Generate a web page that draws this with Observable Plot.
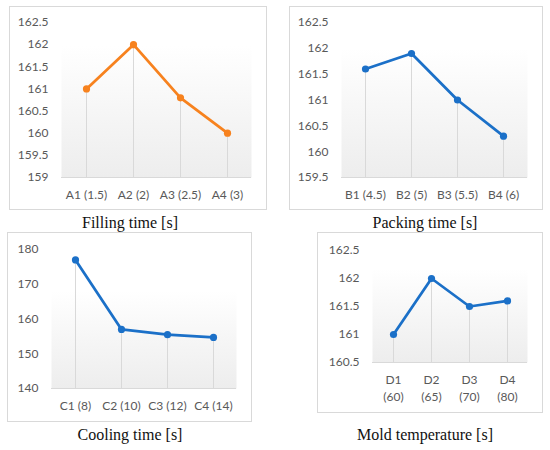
<!DOCTYPE html>
<html>
<head>
<meta charset="utf-8">
<script src="https://cdn.jsdelivr.net/npm/d3@7"></script>
<script src="https://cdn.jsdelivr.net/npm/@observablehq/plot@0.6"></script>
<style>
  html, body { margin: 0; padding: 0; background: #fff; }
  #root { position: relative; width: 550px; height: 450px; overflow: hidden; background: #fff; }
  .box { position: absolute; box-sizing: border-box; border: 1px solid #d9d9d9; pointer-events: none; }
  .chart { position: absolute; }
  .cap { position: absolute; width: 220px; text-align: center; font-family: "Liberation Serif", serif; font-size: 16px; line-height: 16px; color: #111; white-space: nowrap; }
</style>
</head>
<body>
<div id="root"></div>
<script>
// ---- data ----
const catsA = ["A1 (1.5)", "A2 (2)", "A3 (2.5)", "A4 (3)"];
const valsA = [161.0, 162.0, 160.8, 160.0];
const ticksA = [159, 159.5, 160, 160.5, 161, 161.5, 162, 162.5];

const catsB = ["B1 (4.5)", "B2 (5)", "B3 (5.5)", "B4 (6)"];
const valsB = [161.6, 161.9, 161.0, 160.3];
const ticksB = [159.5, 160, 160.5, 161, 161.5, 162, 162.5];

const catsC = ["C1 (8)", "C2 (10)", "C3 (12)", "C4 (14)"];
const valsC = [177.0, 157.0, 155.5, 154.7];
const ticksC = [140, 150, 160, 170, 180];

const catsD = ["D1\n(60)", "D2\n(65)", "D3\n(70)", "D4\n(80)"];
const valsD = [161.0, 162.0, 161.5, 161.6];
const ticksD = [160.5, 161, 161.5, 162, 162.5];

const captions = ["Filling time [s]", "Packing time [s]", "Cooling time [s]", "Mold temperature [s]"];

// ---- layout / style ----
const ORANGE = "#f7821e";
const BLUE = "#1b70c8";
const panels = [
  {cats: catsA, vals: valsA, ticks: ticksA, color: ORANGE, caption: captions[0],
   left: 9, top: 6, width: 258, height: 204, ml: 52, mr: 16, mt: 16, mb: 33, gTop: 23, capX: 130, capY: 214.5},
  {cats: catsB, vals: valsB, ticks: ticksB, color: BLUE, caption: captions[1],
   left: 289, top: 6, width: 254, height: 204, ml: 52, mr: 16, mt: 16, mb: 33, gTop: 26, capX: 425, capY: 214.5},
  {cats: catsC, vals: valsC, ticks: ticksC, color: BLUE, caption: captions[2],
   left: 7, top: 232, width: 245, height: 190, ml: 44, mr: 16, mt: 17, mb: 34, gTop: 41, capX: 130, capY: 426.5},
  {cats: catsD, vals: valsD, ticks: ticksD, color: BLUE, caption: captions[3],
   left: 317, top: 232, width: 226, height: 181, ml: 55, mr: 16, mt: 18, mb: 51, gTop: 18, capX: 425, capY: 426.5}
];

const root = document.getElementById("root");

panels.forEach((p, i) => {
  const data = p.cats.map((c, k) => ({cat: c, val: p.vals[k]}));
  const yMin = p.ticks[0], yMax = p.ticks[p.ticks.length - 1];
  const gid = "grad" + i;
  const chart = Plot.plot({
    width: p.width,
    height: p.height,
    marginLeft: p.ml, marginRight: p.mr, marginTop: p.mt, marginBottom: p.mb,
    style: {fontFamily: "Lato, sans-serif", fontSize: "12px", color: "#595959", background: "transparent", overflow: "visible"},
    x: {type: "point", domain: p.cats, padding: 0.5},
    y: {domain: [yMin, yMax]},
    marks: [
      Plot.frame({fill: `url(#${gid})`, stroke: null, insetTop: p.gTop}),
      Plot.ruleY([yMin], {stroke: "#d9d9d9", strokeWidth: 1}),
      Plot.ruleX(data, {x: "cat", y1: yMin, y2: "val", stroke: "#d9d9d9", strokeWidth: 1}),
      Plot.axisY({ticks: p.ticks, tickSize: 0, tickPadding: 13, label: null, tickFormat: d => String(d), fill: "#595959"}),
      Plot.axisX({tickSize: 0, tickPadding: 10, label: null, lineHeight: 1.4, fill: "#595959"}),
      Plot.line(data, {x: "cat", y: "val", stroke: p.color, strokeWidth: 2.75, strokeLinejoin: "round"}),
      Plot.dot(data, {x: "cat", y: "val", r: 3.6, fill: p.color, stroke: null})
    ]
  });
  d3.select(chart).insert("defs", ":first-child").html(
    `<linearGradient id="${gid}" x1="0" y1="0" x2="0" y2="1">
       <stop offset="0" stop-color="#ffffff"/>
       <stop offset="1" stop-color="#ededed"/>
     </linearGradient>`);
  chart.classList.add("chart");
  chart.style.left = p.left + "px";
  chart.style.top = p.top + "px";
  root.appendChild(chart);

  const box = document.createElement("div");
  box.className = "box";
  box.style.left = p.left + "px";
  box.style.top = p.top + "px";
  box.style.width = p.width + "px";
  box.style.height = p.height + "px";
  root.appendChild(box);

  const cap = document.createElement("div");
  cap.className = "cap";
  cap.textContent = p.caption;
  cap.style.left = (p.capX - 110) + "px";
  cap.style.top = p.capY + "px";
  root.appendChild(cap);
});
</script>
</body>
</html>
